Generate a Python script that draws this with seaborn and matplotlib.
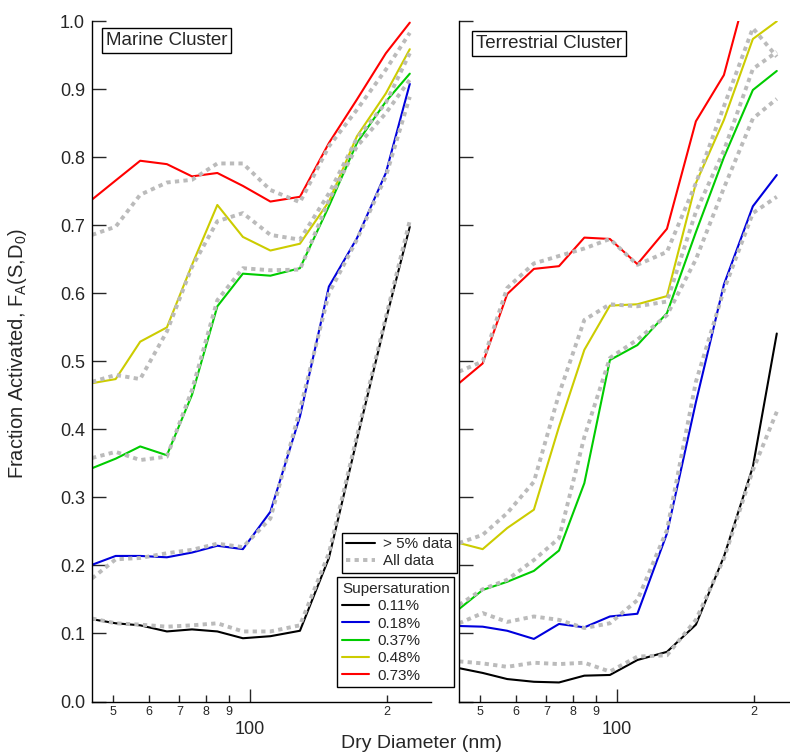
#!/usr/bin/env python3
"""Fraction activated vs dry diameter, marine and terrestrial clusters."""

import numpy as np
import pandas as pd
import matplotlib
matplotlib.use('Agg')
import matplotlib.pyplot as plt
from matplotlib.lines import Line2D
from matplotlib.ticker import FixedLocator, FixedFormatter, MultipleLocator, FormatStrFormatter
import seaborn as sns

sns.set_style('ticks')
plt.rcParams['font.family'] = ['Liberation Sans', 'DejaVu Sans']

# dry diameter bins (nm)
diameters = [45.0, 50.7, 57.4, 65.7, 74.6, 84.8, 96.5, 110.9, 128.8, 149.1, 171.8, 198.9, 224.5]

supersaturations = ['0.11%', '0.18%', '0.37%', '0.48%', '0.73%']
colors = ['#000000', '#0000DD', '#00CC00', '#CCCC00', '#FF0000']

# Marine cluster, > 5% data
marine_011 = [0.121, 0.115, 0.112, 0.103, 0.106, 0.103, 0.093, 0.096, 0.104, 0.211, 0.385, 0.561, 0.698]
marine_018 = [0.201, 0.214, 0.214, 0.212, 0.219, 0.229, 0.224, 0.279, 0.419, 0.610, 0.681, 0.777, 0.908]
marine_037 = [0.343, 0.357, 0.375, 0.362, 0.451, 0.581, 0.629, 0.626, 0.637, 0.728, 0.821, 0.882, 0.923]
marine_048 = [0.468, 0.474, 0.529, 0.550, 0.642, 0.730, 0.683, 0.663, 0.673, 0.735, 0.831, 0.894, 0.959]
marine_073 = [0.738, 0.766, 0.795, 0.790, 0.772, 0.777, 0.758, 0.735, 0.742, 0.821, 0.885, 0.953, 0.998]

# Marine cluster, all data
marine_011_all = [0.122, 0.115, 0.113, 0.110, 0.112, 0.115, 0.103, 0.103, 0.112, 0.218, 0.390, 0.565, 0.707]
marine_018_all = [0.181, 0.209, 0.211, 0.218, 0.223, 0.232, 0.227, 0.269, 0.429, 0.600, 0.679, 0.772, 0.889]
marine_037_all = [0.358, 0.367, 0.355, 0.360, 0.458, 0.590, 0.637, 0.634, 0.635, 0.737, 0.816, 0.865, 0.914]
marine_048_all = [0.470, 0.480, 0.474, 0.544, 0.639, 0.706, 0.718, 0.686, 0.679, 0.747, 0.828, 0.880, 0.953]
marine_073_all = [0.686, 0.698, 0.745, 0.763, 0.767, 0.791, 0.791, 0.752, 0.734, 0.816, 0.870, 0.929, 0.983]

# Terrestrial cluster, > 5% data
terr_011 = [0.049, 0.042, 0.033, 0.029, 0.028, 0.038, 0.039, 0.061, 0.073, 0.113, 0.213, 0.345, 0.541]
terr_018 = [0.111, 0.110, 0.104, 0.092, 0.114, 0.109, 0.125, 0.129, 0.247, 0.440, 0.613, 0.728, 0.774]
terr_037 = [0.136, 0.164, 0.176, 0.192, 0.222, 0.321, 0.502, 0.524, 0.571, 0.690, 0.800, 0.899, 0.927]
terr_048 = [0.233, 0.224, 0.255, 0.282, 0.404, 0.517, 0.582, 0.584, 0.596, 0.762, 0.855, 0.974, 1.000]
terr_073 = [0.468, 0.497, 0.599, 0.636, 0.640, 0.682, 0.680, 0.643, 0.695, 0.853, 0.921, 1.080, 1.130]

# Terrestrial cluster, all data
terr_011_all = [0.059, 0.056, 0.051, 0.057, 0.055, 0.057, 0.044, 0.066, 0.068, 0.120, 0.210, 0.340, 0.426]
terr_018_all = [0.115, 0.130, 0.117, 0.125, 0.120, 0.108, 0.115, 0.149, 0.252, 0.470, 0.605, 0.718, 0.742]
terr_037_all = [0.142, 0.165, 0.179, 0.208, 0.240, 0.389, 0.505, 0.532, 0.568, 0.650, 0.755, 0.857, 0.886]
terr_048_all = [0.233, 0.245, 0.277, 0.323, 0.452, 0.561, 0.584, 0.581, 0.588, 0.720, 0.810, 0.930, 0.955]
terr_073_all = [0.485, 0.500, 0.608, 0.644, 0.655, 0.666, 0.680, 0.642, 0.661, 0.762, 0.875, 0.990, 0.948]

marine_sel = [marine_011, marine_018, marine_037, marine_048, marine_073]
marine_all = [marine_011_all, marine_018_all, marine_037_all, marine_048_all, marine_073_all]
terr_sel = [terr_011, terr_018, terr_037, terr_048, terr_073]
terr_all = [terr_011_all, terr_018_all, terr_037_all, terr_048_all, terr_073_all]

GRAY = '#BBBBBB'
DOTS = (0, (1.1, 1.1))
W, H = 790, 755


def draw_panel(ax, sel, alldata, title, title_xy):
    for vals, col in zip(sel, colors):
        sns.lineplot(x=diameters, y=vals, ax=ax, color=col, linewidth=1.5,
                     estimator=None, sort=False)
    for vals in alldata:
        sns.lineplot(x=diameters, y=vals, ax=ax, color=GRAY, linewidth=2.8,
                     linestyle=DOTS, estimator=None, sort=False)

    ax.set_xscale('log')
    ax.set_xlim(44.98, 249.3)
    ax.set_ylim(0, 1.0)
    ax.set_xlabel('')
    ax.set_ylabel('')

    ax.xaxis.set_major_locator(FixedLocator([100]))
    ax.xaxis.set_major_formatter(FixedFormatter(['100']))
    ax.xaxis.set_minor_locator(FixedLocator([50, 60, 70, 80, 90, 200]))
    ax.xaxis.set_minor_formatter(FixedFormatter(['5', '6', '7', '8', '9', '2']))
    ax.tick_params(axis='x', which='major', direction='in', length=9.5, width=1,
                   labelsize=13, pad=14)
    ax.tick_params(axis='x', which='minor', direction='in', length=5, width=1,
                   labelsize=9, pad=3.5)

    ax.yaxis.set_major_locator(MultipleLocator(0.1))
    ax.yaxis.set_major_formatter(FormatStrFormatter('%.1f'))
    ax.tick_params(axis='y', which='major', direction='in', length=10, width=1,
                   labelsize=13, pad=5)

    for side in ['top', 'right']:
        ax.spines[side].set_visible(False)
    for side in ['left', 'bottom']:
        ax.spines[side].set_linewidth(1)
        ax.spines[side].set_color('black')

    ax.text(title_xy[0], title_xy[1], title, transform=ax.transAxes,
            ha='left', va='top', fontsize=13.5,
            bbox=dict(boxstyle='square,pad=0.2', facecolor='white',
                      edgecolor='black', linewidth=1))


fig = plt.figure(figsize=(W / 100, H / 100), dpi=100)
ax_l = fig.add_axes([92 / W, (H - 701.5) / H, 338.5 / W, 680.2 / H])
ax_r = fig.add_axes([459 / W, (H - 701.5) / H, 338.5 / W, 680.2 / H])

draw_panel(ax_l, marine_sel, marine_all, 'Marine Cluster', (0.040, 0.984))
draw_panel(ax_r, terr_sel, terr_all, 'Terrestrial Cluster', (0.050, 0.980))
ax_r.tick_params(axis='y', labelleft=False)

# legends
data_handles = [Line2D([], [], color='black', linewidth=1.5),
                Line2D([], [], color=GRAY, linewidth=2.8, linestyle=DOTS)]
leg1 = ax_l.legend(data_handles, ['> 5% data', 'All data'],
                   loc='upper left', bbox_to_anchor=(341.7 / W, 1 - 532.7 / H),
                   bbox_transform=fig.transFigure, borderaxespad=0,
                   fontsize=11, frameon=True, fancybox=False, framealpha=1,
                   edgecolor='black', handlelength=1.9, handletextpad=0.5,
                   labelspacing=0.18, borderpad=0.3)
leg1.get_frame().set_linewidth(1)
ax_l.add_artist(leg1)

ss_handles = [Line2D([], [], color=c, linewidth=1.5) for c in colors]
leg2 = ax_l.legend(ss_handles, supersaturations, title='Supersaturation',
                   title_fontsize=11, alignment='left',
                   loc='upper left', bbox_to_anchor=(337.3 / W, 1 - 577.3 / H),
                   bbox_transform=fig.transFigure, borderaxespad=0,
                   fontsize=11, frameon=True, fancybox=False, framealpha=1,
                   edgecolor='black', handlelength=1.8, handletextpad=0.5,
                   labelspacing=0.22, borderpad=0.3)
leg2.get_frame().set_linewidth(1)

fig.text(18 / W, 1 - 354 / H, r'Fraction Activated, F$_\mathregular{A}$(S,D$_\mathregular{0}$)',
         rotation=90, ha='center', va='center', fontsize=14.5)
fig.text(422 / W, 1 - 744 / H, 'Dry Diameter (nm)', ha='center', va='center', fontsize=14)

fig.savefig('out.png', dpi=100)
